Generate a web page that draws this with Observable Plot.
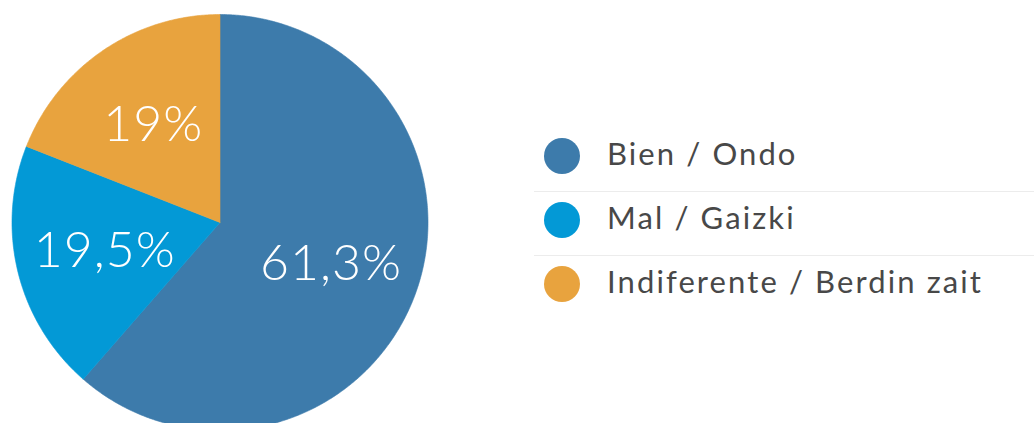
<!DOCTYPE html>
<html>
<head>
<meta charset="utf-8">
<script src="https://cdn.jsdelivr.net/npm/d3@7"></script>
<script src="https://cdn.jsdelivr.net/npm/@observablehq/plot@0.6"></script>
<style>
  html, body { margin: 0; padding: 0; background: #fff; overflow: hidden; }
  #wrap { position: relative; width: 1034px; height: 423px; overflow: hidden; }
  #legend { position: absolute; left: 534px; top: 127px; width: 500px; font-family: Lato, "Open Sans", sans-serif; color: #484848; }
  .row { position: relative; height: 64px; box-sizing: border-box; }
  .row + .row { border-top: 1px solid #ececec; }
  .sw { position: absolute; left: 10px; top: 11px; width: 36px; height: 36px; border-radius: 50%; }
  .row + .row .sw { top: 10px; }
  .lbl { position: absolute; left: 73px; top: 0; line-height: 1; font-size: 31px; letter-spacing: 2.1px; white-space: nowrap; }
</style>
</head>
<body>
<div id="wrap"></div>
<script>
const categories = ["Bien / Ondo", "Mal / Gaizki", "Indiferente / Berdin zait"];
const values = [61.3, 19.5, 19];
const labels = ["61,3%", "19,5%", "19%"];
const colors = ["#3d7bab", "#0399d6", "#e8a33e"];

const arcs = d3.pie().sort(null)(values);
// Polygon outline of each slice (geometry computed from the data angles)
const poly = [];
arcs.forEach((a, i) => {
  poly.push({cat: categories[i], x: 0, y: 0});
  const n = Math.max(2, Math.ceil((a.endAngle - a.startAngle) / (Math.PI / 360)));
  for (let k = 0; k <= n; k++) {
    const t = a.startAngle + (a.endAngle - a.startAngle) * k / n;
    poly.push({cat: categories[i], x: Math.sin(t), y: Math.cos(t)});
  }
  poly.push({cat: categories[i], x: 0, y: 0});
});
const labelData = arcs.map((a, i) => {
  const m = (a.startAngle + a.endAngle) / 2;
  return {label: labels[i], x: 0.57 * Math.sin(m), y: 0.57 * Math.cos(m)};
});

const cx = 219.5, cy = 222, R = 208;
const chart = Plot.plot({
  width: 1034,
  height: 423,
  margin: 0,
  x: {domain: [-1, 1], range: [cx - R, cx + R], axis: null},
  y: {domain: [-1, 1], range: [cy + R, cy - R], axis: null},
  color: {domain: categories, range: colors},
  style: {background: "transparent", overflow: "visible"},
  marks: [
    Plot.line(poly, {x: "x", y: "y", z: "cat", fill: "cat", stroke: "cat", strokeWidth: 0.6, curve: "linear"}),
    Plot.text(labelData, {x: "x", y: "y", text: "label", fill: "white", fontSize: 50, fontWeight: 300, fontFamily: "Lato, 'Open Sans', sans-serif"})
  ]
});
d3.select(chart).selectAll("text").attr("letter-spacing", "1px");
const wrap = document.getElementById("wrap");
wrap.appendChild(chart);

const color = chart.scale("color");
const legend = document.createElement("div");
legend.id = "legend";
categories.forEach((c, i) => {
  const row = document.createElement("div");
  row.className = "row";
  const sw = document.createElement("div");
  sw.className = "sw";
  sw.style.background = color.apply(c);
  const lb = document.createElement("div");
  lb.className = "lbl";
  lb.textContent = c;
  lb.style.top = (i === 0 ? 11 : 10) + "px";
  row.appendChild(sw);
  row.appendChild(lb);
  legend.appendChild(row);
});
wrap.appendChild(legend);
</script>
</body>
</html>
